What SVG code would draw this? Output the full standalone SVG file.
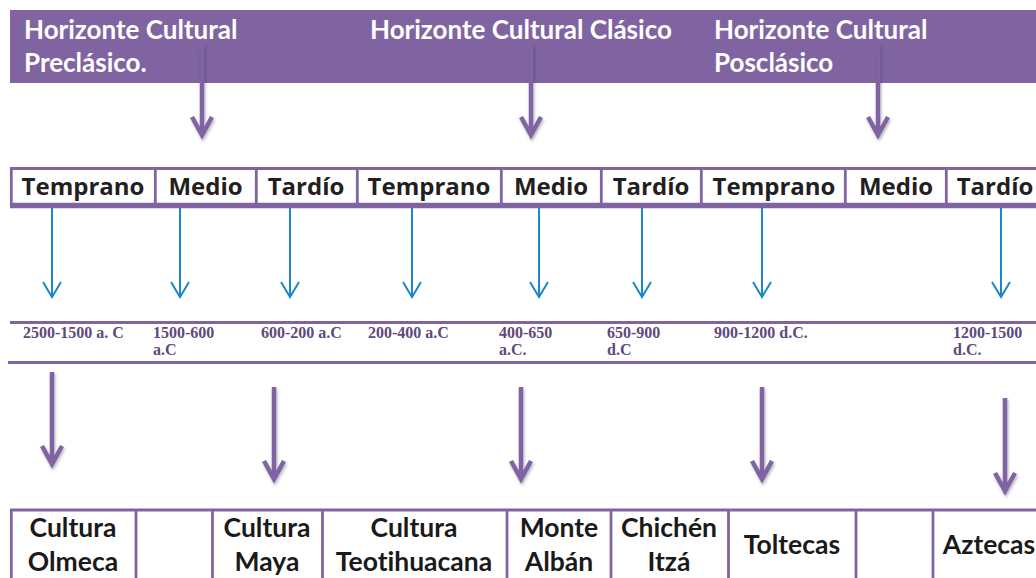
<svg xmlns="http://www.w3.org/2000/svg" width="1036" height="578" viewBox="0 0 1036 578">
<defs>
<filter id="sh" x="-50%" y="-10%" width="200%" height="130%">
<feDropShadow dx="1" dy="2" stdDeviation="1.5" flood-color="#000" flood-opacity="0.3"/>
</filter>
<style>
.band{fill:#8064A2}
.ht{font-family:Lato,"Liberation Sans",sans-serif;font-weight:bold;font-size:26px;fill:#fff;font-variant-ligatures:none}
.pb{stroke:#8064A2;fill:none}
.pt{font-family:"Open Sans","Liberation Sans",sans-serif;font-weight:bold;font-size:24px;fill:#231F20;text-anchor:middle}
.dt{font-family:"Liberation Serif","Times New Roman",serif;font-weight:bold;font-size:16px;fill:#5F497A}
.ct{font-family:Lato,"Liberation Sans",sans-serif;font-weight:bold;font-size:26.5px;fill:#1a1a1a;text-anchor:middle;font-variant-ligatures:none}
.pa{stroke:#8064A2;stroke-width:4.5;fill:none;filter:url(#sh)}
.ba{stroke:#1F87C7;stroke-width:2;fill:none}
</style>
</defs>

<g id="horizontes">
<rect class="band" x="10" y="10" width="1026" height="73"/>
<text class="ht" x="24" y="39">Horizonte Cultural</text>
<text class="ht" x="24" y="72">Preclásico.</text>
<text class="ht" x="370" y="39">Horizonte Cultural Clásico</text>
<text class="ht" x="714" y="39">Horizonte Cultural</text>
<text class="ht" x="714" y="72">Posclásico</text>
</g>

<g id="periodos">
<rect x="11.3" y="168.5" width="1030" height="37" fill="#fff" stroke="none"/>
<line class="pb" x1="10" y1="168.5" x2="1036" y2="168.5" stroke-width="3"/>
<line class="pb" x1="10" y1="205.5" x2="1036" y2="205.5" stroke-width="5.5"/>
<g stroke-width="2.8" class="pb">
<line x1="11.3" y1="168" x2="11.3" y2="206"/>
<line x1="155.3" y1="168" x2="155.3" y2="206"/>
<line x1="256.3" y1="168" x2="256.3" y2="206"/>
<line x1="357.3" y1="168" x2="357.3" y2="206"/>
<line x1="501.3" y1="168" x2="501.3" y2="206"/>
<line x1="601.3" y1="168" x2="601.3" y2="206"/>
<line x1="701.3" y1="168" x2="701.3" y2="206"/>
<line x1="845.3" y1="168" x2="845.3" y2="206"/>
<line x1="946.3" y1="168" x2="946.3" y2="206"/>
</g>
<text class="pt" x="83" y="195">Temprano</text>
<text class="pt" x="205.5" y="195">Medio</text>
<text class="pt" x="306" y="195">Tardío</text>
<text class="pt" x="429" y="195">Temprano</text>
<text class="pt" x="551" y="195">Medio</text>
<text class="pt" x="651" y="195">Tardío</text>
<text class="pt" x="774" y="195">Temprano</text>
<text class="pt" x="896" y="195">Medio</text>
<text class="pt" x="995" y="195">Tardío</text>
</g>

<g id="fechas">
<line class="pb" x1="10" y1="322.5" x2="1036" y2="322.5" stroke-width="3"/>
<line class="pb" x1="8" y1="362.5" x2="1036" y2="362.5" stroke-width="3"/>
<text class="dt" x="23" y="338">2500-1500 a. C</text>
<text class="dt" x="153" y="338">1500-600</text>
<text class="dt" x="153" y="355">a.C</text>
<text class="dt" x="261" y="338">600-200 a.C</text>
<text class="dt" x="368" y="338">200-400 a.C</text>
<text class="dt" x="499" y="338">400-650</text>
<text class="dt" x="499" y="355">a.C.</text>
<text class="dt" x="607" y="338">650-900</text>
<text class="dt" x="607" y="355">d.C</text>
<text class="dt" x="714" y="338">900-1200 d.C.</text>
<text class="dt" x="953" y="338">1200-1500</text>
<text class="dt" x="953" y="355">d.C.</text>
</g>

<g id="culturas">
<line class="pb" x1="10" y1="510" x2="1036" y2="510" stroke-width="3"/>
<g stroke-width="2.8" class="pb">
<line x1="11.3" y1="509" x2="11.3" y2="578"/>
<line x1="136" y1="509" x2="136" y2="578"/>
<line x1="212.5" y1="509" x2="212.5" y2="578"/>
<line x1="322.5" y1="509" x2="322.5" y2="578"/>
<line x1="507" y1="509" x2="507" y2="578"/>
<line x1="611" y1="509" x2="611" y2="578"/>
<line x1="728.5" y1="509" x2="728.5" y2="578"/>
<line x1="856" y1="509" x2="856" y2="578"/>
<line x1="933" y1="509" x2="933" y2="578"/>
</g>
<text class="ct" x="73" y="537">Cultura</text>
<text class="ct" x="73" y="571">Olmeca</text>
<text class="ct" x="267" y="537">Cultura</text>
<text class="ct" x="267" y="571">Maya</text>
<text class="ct" x="414" y="537">Cultura</text>
<text class="ct" x="414" y="571">Teotihuacana</text>
<text class="ct" x="559" y="537">Monte</text>
<text class="ct" x="559" y="571">Albán</text>
<text class="ct" x="669" y="537">Chichén</text>
<text class="ct" x="669" y="571">Itzá</text>
<text class="ct" x="792" y="554">Toltecas</text>
<text class="ct" x="989" y="554">Aztecas</text>
</g>

<g id="conectores">
<g class="pa">
<path d="M202 44V135M192 117L202 135L212 117"/>
<path d="M531 44V135M521 117L531 135L541 117"/>
<path d="M878 44V135M868 117L878 135L888 117"/>
<path d="M52 372V464M42 446L52 464L62 446"/>
<path d="M274 387V479M264 461L274 479L284 461"/>
<path d="M521 387V479M511 461L521 479L531 461"/>
<path d="M762 387V479M752 461L762 479L772 461"/>
<path d="M1005 398V491M995 473L1005 491L1015 473"/>
</g>
<g class="ba">
<path d="M52 208V297M43 282L52 297L61 282"/>
<path d="M180 208V297M171 282L180 297L189 282"/>
<path d="M290 208V297M281 282L290 297L299 282"/>
<path d="M412 208V297M403 282L412 297L421 282"/>
<path d="M539 208V297M530 282L539 297L548 282"/>
<path d="M642 208V297M633 282L642 297L651 282"/>
<path d="M762 208V297M753 282L762 297L771 282"/>
<path d="M1001 208V297M992 282L1001 297L1010 282"/>
</g>
</g>
</svg>
